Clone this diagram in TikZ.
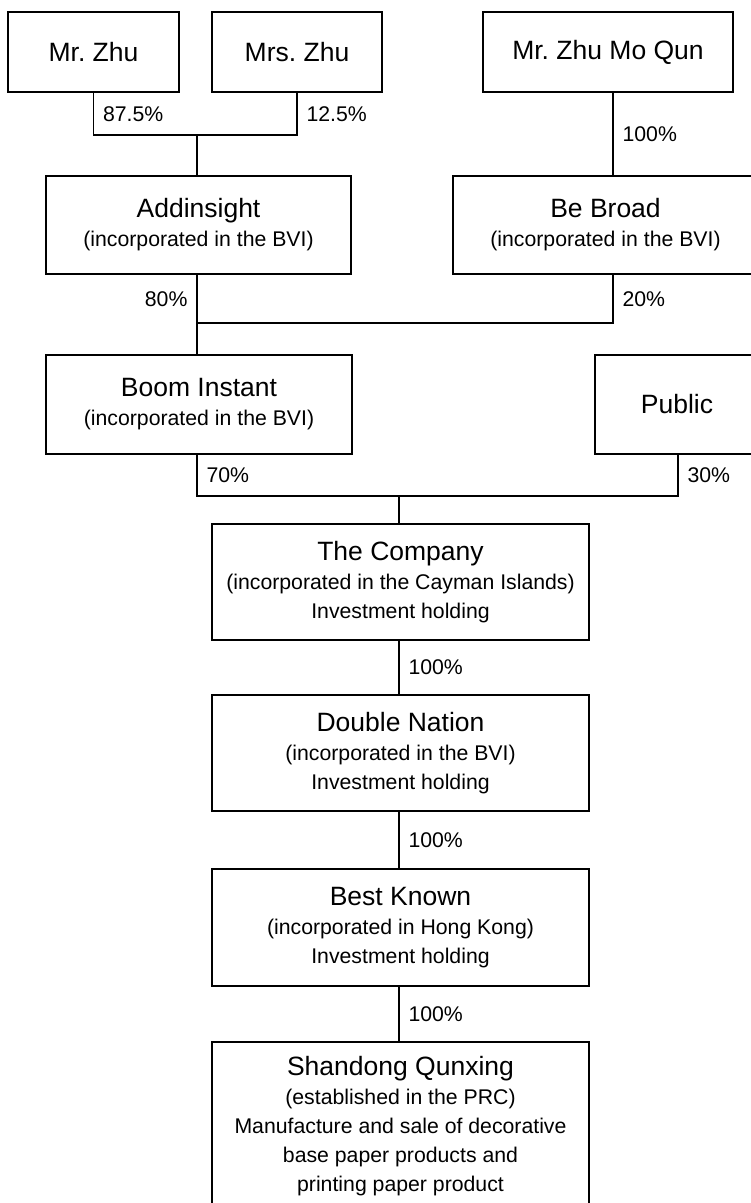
\documentclass[tikz,border=0pt]{standalone}
\usepackage{fontspec}
\setmainfont{Liberation Sans}
\frenchspacing
\newcommand{\cname}[1]{{\fontsize{26.5}{29}\selectfont #1}}
\begin{document}
\begin{tikzpicture}[x=1pt,y=-1pt,line width=1.1pt,
	ent/.style={draw,rectangle,inner sep=0pt,align=center,font=\fontsize{21.25}{29}\selectfont},
	pct/.style={inner sep=9pt,font=\fontsize{21.25}{25}\selectfont}]
	\useasboundingbox (0,0) rectangle (751,1203);
	%	shareholders
	\node[ent,minimum width=171pt,minimum height=80pt] (zhu) at (93.5,52) {\cname{Mr. Zhu}};
	\node[ent,minimum width=170pt,minimum height=80pt] (mrszhu) at (297,52) {\cname{Mrs. Zhu}};
	\node[ent,minimum width=250pt,minimum height=80pt] (moqun) at (608,52) {\cname{Mr. Zhu Mo Qun}};
	\node[ent,minimum width=305pt,minimum height=98pt] (addin) at (198.5,225) {\cname{Addinsight}\\(incorporated in the BVI)};
	\node[ent,minimum width=305pt,minimum height=98pt] (bebroad) at (605.5,225) {\cname{Be Broad}\\(incorporated in the BVI)};
	\node[ent,minimum width=306pt,minimum height=99pt] (boom) at (199,404.5) {\cname{Boom Instant}\\(incorporated in the BVI)};
	\node[ent,minimum width=164pt,minimum height=99pt] (public) at (677,404.5) {\cname{Public}};
	%	group
	\node[ent,minimum width=377pt,minimum height=116pt] (company) at (400.5,582) {\cname{The Company}\\(incorporated in the Cayman Islands)\\Investment holding};
	\node[ent,minimum width=377pt,minimum height=116pt] (dnation) at (400.5,753) {\cname{Double Nation}\\(incorporated in the BVI)\\Investment holding};
	\node[ent,minimum width=377pt,minimum height=117pt] (bestknown) at (400.5,927.5) {\cname{Best Known}\\(incorporated in Hong Kong)\\Investment holding};
	\node[ent,minimum width=377pt,minimum height=169pt] (shandong) at (400.5,1126.5) {\cname{Shandong Qunxing}\\(established in the PRC)\\Manufacture and sale of decorative\\base paper products and\\printing paper product};
	%	junctions
	\coordinate (j1) at (197,135);
	\coordinate (j2) at (197,323);
	\coordinate (j3) at (613,323);
	\coordinate (j4) at (197,496);
	\coordinate (j5) at (678,496);
	\coordinate (j6) at (399,496);
	%	links
	\draw (zhu.south) -- node[pct,right]{87.5\%} (zhu.south |- j1) -- (mrszhu.south |- j1) -- node[pct,right]{12.5\%} (mrszhu.south);
	\draw (j1) -- (addin.north -| j1);
	\draw (moqun.south -| j3) -- node[pct,right]{100\%} (bebroad.north -| j3);
	\draw (addin.south -| j2) -- node[pct,left]{80\%} (j2) -- (j3) -- node[pct,right]{20\%} (bebroad.south -| j3);
	\draw (j2) -- (boom.north -| j2);
	\draw (boom.south -| j4) -- node[pct,right]{70\%} (j4) -- (j5) -- node[pct,right]{30\%} (public.south -| j5);
	\draw (j6) -- (company.north -| j6);
	\draw (company.south -| j6) -- node[pct,right]{100\%} (dnation.north -| j6);
	\draw (dnation.south -| j6) -- node[pct,right]{100\%} (bestknown.north -| j6);
	\draw (bestknown.south -| j6) -- node[pct,right]{100\%} (shandong.north -| j6);
\end{tikzpicture}
\end{document}
